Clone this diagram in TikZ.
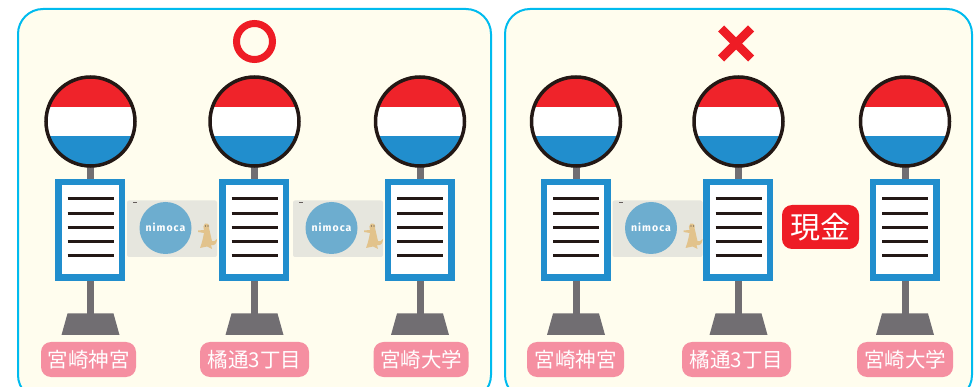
\documentclass[tikz,border=0pt]{standalone}
\usepackage{fontspec}
\usepackage{tikz}
\setmainfont{Noto Sans CJK JP}
\newfontfamily\cardfont[LetterSpace=10]{Fira Sans}
\pgfdeclarelayer{edgelayer}
\pgfdeclarelayer{nodelayer}
\pgfsetlayers{edgelayer,main,nodelayer}
\definecolor{panelfill}{HTML}{FFFDEE}
\definecolor{panelline}{HTML}{00BBEE}
\definecolor{signblue}{HTML}{218ECD}
\definecolor{signred}{HTML}{EF232A}
\definecolor{markred}{HTML}{EE1C25}
\definecolor{polegrey}{HTML}{716E72}
\definecolor{inkblack}{HTML}{231815}
\definecolor{labelpink}{HTML}{F58FA1}
\definecolor{cardgrey}{HTML}{E6E6DE}
\definecolor{cardblue}{HTML}{6DADCF}
\definecolor{ferret}{HTML}{E2C38C}
\tikzset{
  panel/.style={draw=panelline,fill=panelfill,line width=2pt,rounded corners=25pt},
  stoplabel/.style={fill=labelpink,rounded corners=10pt,text=white,font=\fontsize{20.5}{21}\selectfont,
    minimum height=35pt,inner sep=0pt,anchor=center},
  cardbox/.style={fill=cardgrey,rounded corners=2pt},
  cardname/.style={text=white,font=\cardfont\bfseries\fontsize{10.5}{11}\selectfont,inner sep=0pt},
  cashbox/.style={fill=markred,rounded corners=10pt,text=white,font=\fontsize{30}{30}\selectfont,
    minimum width=77pt,minimum height=44pt,inner sep=0pt},
  signline/.style={draw=inkblack,line width=3pt},
  crossline/.style={draw=markred,line width=8.5pt}
}
% bus stop: #1 name, #2 centre x
\newcommand{\busstop}[2]{
	\begin{scope}[shift={(#2,0)}]
		\fill [polegrey] (-3.5,160) rectangle (3.5,316);
		\fill [polegrey] (-23,313.5) -- (23,313.5) -- (29,335) -- (-29,335) -- cycle;
		\begin{scope}
			\clip (0,121) circle (45);
			\fill [white] (-46,75) rectangle (46,167);
			\fill [signred] (-46,75) rectangle (46,107);
			\fill [signblue] (-46,136) rectangle (46,167);
		\end{scope}
		\node [draw=inkblack,line width=3.5pt,circle,minimum size=89pt,inner sep=0pt] (#1head) at (0,121.5) {};
		\node [draw=signblue,fill=white,line width=6.5pt,minimum width=63.5pt,minimum height=95.5pt,inner sep=0pt] (#1sign) at (-0.5,230) {};
		\foreach \liney in {199,213.5,227.5,242,256}
			\draw [signline] (-23,\liney) -- (23,\liney);
	\end{scope}
}
% nimoca card: #1 name, #2 left x
\newcommand{\nimocacard}[2]{
	\begin{scope}[shift={(#2,0)}]
		\fill [cardbox] (0,200.5) rectangle (90,257);
		\fill [inkblack!70] (6,202) rectangle (10,203.5);
		\fill [cardblue] (38.5,228) circle (26);
		\node [cardname] (#1) at (38.5,227) {nimoca};
		% ferret
		\fill [ferret] (78,223.5) .. controls (81,223) and (83,225) .. (82,228)
			.. controls (83,232) and (84,237) .. (85,241) .. controls (87,242) and (88,241) .. (90,239)
			.. controls (90,243) and (88,246) .. (84,245) -- (85,249) -- (80,246.5) -- (73,248)
			.. controls (75,243) and (76,238) .. (77,233) -- (71,232) -- (71,230.5) -- (77,230)
			.. controls (76,228) and (76,225) .. (78,223.5) -- cycle;
		\fill [inkblack!80] (78.5,226) circle (0.6) (81,226) circle (0.6);
	\end{scope}
}
\begin{document}
\begin{tikzpicture}[x=1pt,y=-1pt]
	\clip (0,0) rectangle (980,387);
	\begin{pgfonlayer}{edgelayer}
		\draw [panel] (18,9) rectangle (491,400);
		\draw [panel] (505,9) rectangle (972,400);
	\end{pgfonlayer}
	\busstop{a}{90.5}
	\busstop{b}{254.5}
	\busstop{c}{420}
	\busstop{d}{576}
	\busstop{e}{738.5}
	\busstop{f}{905}
	\nimocacard{cardab}{127}
	\nimocacard{cardbc}{293}
	\nimocacard{cardde}{612.5}
	\begin{pgfonlayer}{nodelayer}
		\node [stoplabel,minimum width=95pt] (labela) at (88.5,359.5) {宮崎神宮};
		\node [stoplabel,minimum width=109pt] (labelb) at (254.5,359.5) {橘通3丁目};
		\node [stoplabel,minimum width=95pt] (labelc) at (421,359.5) {宮崎大学};
		\node [stoplabel,minimum width=97pt] (labeld) at (575.5,359.5) {宮崎神宮};
		\node [stoplabel,minimum width=109pt] (labele) at (736.5,359.5) {橘通3丁目};
		\node [stoplabel,minimum width=96pt] (labelf) at (905,359.5) {宮崎大学};
		\node [cashbox] (cash) at (820.5,227) {現金};
		\node [draw=markred,line width=7pt,circle,minimum size=36pt,inner sep=0pt] (okmark) at (254.5,41.5) {};
		\coordinate (crossa) at (721,28.5);
		\coordinate (crossb) at (751,58.5);
		\coordinate (crossc) at (751,28.5);
		\coordinate (crossd) at (721,58.5);
		\draw [crossline] (crossa) -- (crossb);
		\draw [crossline] (crossc) -- (crossd);
	\end{pgfonlayer}
\end{tikzpicture}
\end{document}
